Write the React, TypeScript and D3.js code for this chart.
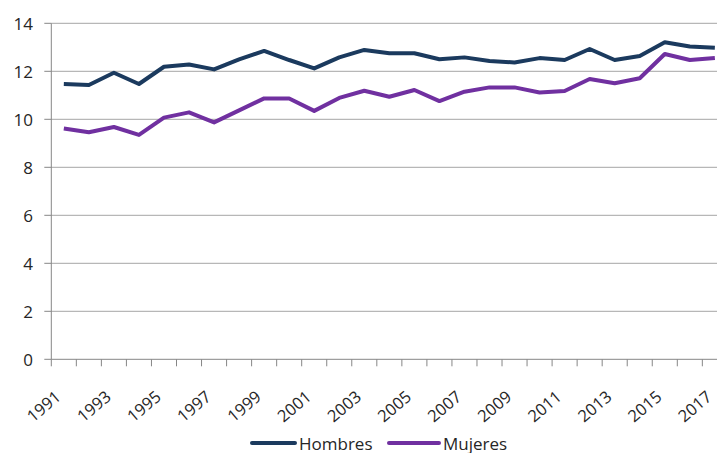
import React from 'react';
import * as d3 from 'd3';

const years = d3.range(1991, 2018).map(String);
const hombres = [11.47, 11.43, 11.94, 11.47, 12.19, 12.28, 12.08, 12.5, 12.85, 12.47, 12.12, 12.58, 12.89, 12.75, 12.75, 12.5, 12.58, 12.43, 12.37, 12.55, 12.47, 12.93, 12.47, 12.64, 13.21, 13.03, 12.98];
const mujeres = [9.62, 9.46, 9.68, 9.35, 10.07, 10.29, 9.87, 10.37, 10.87, 10.87, 10.35, 10.89, 11.19, 10.94, 11.22, 10.76, 11.15, 11.33, 11.33, 11.12, 11.18, 11.68, 11.5, 11.71, 12.72, 12.47, 12.55];
const yTicks = [0, 2, 4, 6, 8, 10, 12, 14];
const seriesNames = ['Hombres', 'Mujeres'];
const seriesColors = ['#1b3a5e', '#7030a0'];

const W = 717;
const H = 453;
const FONT = "'Open Sans', sans-serif";

const App: React.FC = () => {
  const left = 51.3;
  const x = d3.scaleBand<string>().domain(years).range([left, left + 27 * 25.04]);
  const y = d3.scaleLinear().domain([0, 14]).range([359.3, 23.3]);
  const cx = (yr: string) => (x(yr) as number) + x.bandwidth() / 2;
  const line = d3.line<number>()
    .x((_, i) => cx(years[i]))
    .y((d) => y(d));
  const series = [hombres, mujeres];
  const boundaries = years.map((yr) => x(yr) as number);
  // legend: line start, text start
  const legendPos = [[252, 299], [389, 443]];

  return (
    <div style={{ position: 'absolute', left: 0, top: 0 }}>
      <svg width={W} height={H} style={{ display: 'block', background: '#fff' }} fontFamily={FONT}>
        {yTicks.map((t) => (
          <g key={t}>
            {t > 0 && <line x1={left} x2={W} y1={y(t)} y2={y(t)} stroke="#a6a6a6" strokeWidth={1} />}
            <line x1={left - 7} x2={left} y1={y(t)} y2={y(t)} stroke="#868686" />
            <text x={33} y={y(t)} textAnchor="end" dominantBaseline="central" fontSize={17} fill="#262626">{t}</text>
          </g>
        ))}
        <line x1={left} x2={left} y1={y(14)} y2={y(0)} stroke="#868686" />
        <line x1={left} x2={W} y1={y(0)} y2={y(0)} stroke="#868686" />
        {boundaries.map((b, i) => (
          <line key={i} x1={b} x2={b} y1={y(0)} y2={y(0) + 7} stroke="#868686" />
        ))}
        {years.map((yr, i) => i % 2 === 0 && (
          <text key={yr}
            transform={`translate(${cx(yr) - 5.5},${y(0) + 35}) rotate(-40)`}
            textAnchor="end" dy="0.35em" fontSize={16.5} fill="#262626">{yr}</text>
        ))}
        {series.map((s, i) => (
          <path key={i} d={line(s) as string} fill="none" stroke={seriesColors[i]} strokeWidth={4} strokeLinejoin="round" />
        ))}
        {seriesNames.map((n, i) => {
          const [lx, tx] = legendPos[i];
          return (
            <g key={n}>
              <line x1={lx} x2={tx - 4} y1={443} y2={443} stroke={seriesColors[i]} strokeWidth={4} strokeLinecap="round" />
              <text x={tx} y={443} dominantBaseline="central" fontSize={17} fill="#262626">{n}</text>
            </g>
          );
        })}
      </svg>
    </div>
  );
};

export default App;
